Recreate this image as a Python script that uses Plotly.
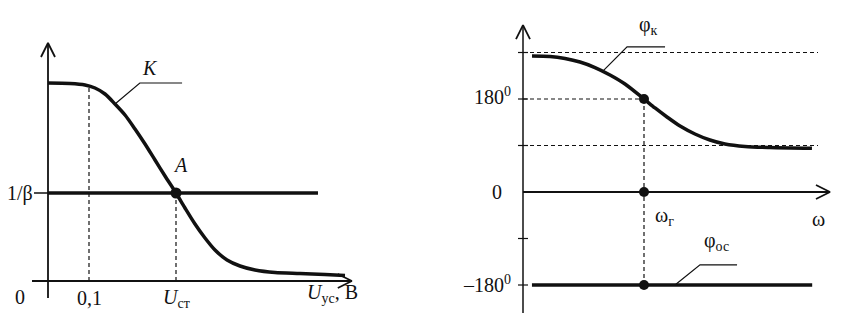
import plotly.graph_objects as go

# ---------------- Left panel data (gain characteristic) ----------------
u_k = [0.0, 0.0537, 0.0902, 0.1146, 0.139, 0.1634, 0.1878, 0.2122, 0.2366,
       0.261, 0.2854, 0.3122, 0.3341, 0.3585, 0.3829, 0.4073, 0.4366, 0.4683,
       0.5049, 0.5537, 0.6146, 0.6756, 0.7244]
k_vals = [1.98, 1.975, 1.96, 1.93, 1.87, 1.77, 1.66, 1.52, 1.37,
          1.21, 1.05, 0.88, 0.73, 0.57, 0.43, 0.31, 0.21, 0.15,
          0.11, 0.085, 0.075, 0.065, 0.055]
inv_beta = 0.88
u_beta_end = 0.6585
u_01 = 0.1
k_at_01 = 1.945
u_st = 0.3122
left_x_axis = [-0.039, 0.741]
left_y_axis = [-0.17, 2.38]

# ---------------- Right panel data (phase characteristic) ----------------
w_phi = [0.0744, 0.2231, 0.3471, 0.4711, 0.595, 0.719, 0.843, 1.0, 1.091,
         1.190, 1.298, 1.421, 1.545, 1.669, 1.835, 2.041, 2.388]
phi_k = [263.2, 262.3, 258.4, 251.6, 240.9, 226.5, 209.0, 180, 162.6,
         145.2, 127.7, 112.3, 100.6, 92.9, 88.1, 86.1, 84.6]
w_oc = [0.074, 2.39]
phi_oc = [-180, -180]
w_g = 1.0
phi_ticks = [270, 180, 90, -90, -180]
dash_levels = [270, 90]
w_dash_end = 2.438
right_x_axis = [0.0, 2.537]
right_y_axis = [-234, 323]

# pixel scales of the two panels (px per data unit)
LX, LY = 410.0, 100.0
RX, RY = 121.0, 93.0 / 180.0

BLACK = "#111111"
FONT = "Liberation Serif"
FS = 20

fig = go.Figure()


def line(x, y, axis, width=2.0, dash=None):
    xa, ya = ("x", "y") if axis == 1 else ("x2", "y2")
    smooth = len(x) > 3
    fig.add_trace(go.Scatter(x=x, y=y, mode="lines", xaxis=xa, yaxis=ya,
                             line=dict(color=BLACK, width=width, dash=dash,
                                       shape="spline" if smooth else "linear",
                                       smoothing=0.8 if smooth else None),
                             hoverinfo="skip", showlegend=False))


def arrow(x, y, direction, axis, sx, sy):
    # open V arrowhead, size given in pixels converted through the panel scale
    a, b = 14.0, 7.0
    if direction == "up":
        xs = [x - b / sx, x, x + b / sx]
        ys = [y - a / sy, y, y - a / sy]
    else:
        xs = [x - a / sx, x, x - a / sx]
        ys = [y + b / sy, y, y - b / sy]
    line(xs, ys, axis, width=1.8)


# ---------- Left panel ----------
line(left_x_axis, [0, 0], 1, width=2.2)
line([0, 0], left_y_axis, 1, width=1.8)
arrow(left_x_axis[1], 0, "right", 1, LX, LY)
arrow(0, left_y_axis[1], "up", 1, LX, LY)
line([-14 / LX, 0], [inv_beta, inv_beta], 1, width=1.5)
line([u_01, u_01], [0, k_at_01], 1, width=1.2, dash="4px,3px")
line([u_st, u_st], [0, inv_beta], 1, width=1.2, dash="4px,3px")
line([0, u_beta_end], [inv_beta, inv_beta], 1, width=3.5)
line(u_k, k_vals, 1, width=3.5)
# leader line to label K
line([u_k[5], 0.224, 0.327], [k_vals[5], k_vals[0], k_vals[0]], 1, width=1.2)
fig.add_trace(go.Scatter(x=[u_st], y=[inv_beta], mode="markers", xaxis="x", yaxis="y",
                         marker=dict(color=BLACK, size=11), hoverinfo="skip",
                         showlegend=False))

# ---------- Right panel ----------
line(right_x_axis, [0, 0], 2, width=1.8)
line([0, 0], right_y_axis, 2, width=1.5)
arrow(right_x_axis[1], 0, "right", 2, RX, RY)
arrow(0, right_y_axis[1], "up", 2, RX, RY)
for t in phi_ticks:
    line([-5 / RX, 5 / RX], [t, t], 2, width=1.2)
for lv in dash_levels:
    line([0, w_dash_end], [lv, lv], 2, width=1.0, dash="4px,3px")
line([0, w_g], [180, 180], 2, width=1.2, dash="4px,3px")
line([w_g, w_g], [180, -180], 2, width=1.2, dash="4px,3px")
line(w_phi, phi_k, 2, width=3.5)
line(w_oc, phi_oc, 2, width=3.5)
# leader lines
line([0.66, 0.86, 1.174], [234, 281, 281], 2, width=1.2)
line([1.256, 1.463, 1.769], [-180, -141, -141], 2, width=1.2)
fig.add_trace(go.Scatter(x=[w_g, w_g, w_g], y=[180, 0, -180], mode="markers",
                         xaxis="x2", yaxis="y2",
                         marker=dict(color=BLACK, size=10), hoverinfo="skip",
                         showlegend=False))

# ---------- Labels ----------
left_labels = [
    ("<i>K</i>", 0.249, 2.13),
    ("<i>A</i>", 0.322, 1.16),
    ("1/β", -0.068, inv_beta),
    ("0", -0.068, -0.16),
    ("0,1", u_01, -0.17),
    ("<i>U</i><sub>ст</sub>", u_st, -0.17),
    ("<i>U</i><sub>ус</sub>, В", 0.695, -0.12),
]
right_labels = [
    ("180<sup>0</sup>", -0.256, 186),
    ("0", -0.215, 0),
    ("–180<sup>0</sup>", -0.30, -178),
    ("φ<sub>к</sub>", 1.04, 323),
    ("ω<sub>г</sub>", 1.17, -48),
    ("ω", 2.446, -52),
    ("φ<sub>ос</sub>", 1.60, -95),
]
for txt, x, y in left_labels:
    fig.add_annotation(text=txt, x=x, y=y, xref="x", yref="y", showarrow=False,
                       font=dict(family=FONT, size=FS, color=BLACK))
for txt, x, y in right_labels:
    fig.add_annotation(text=txt, x=x, y=y, xref="x2", yref="y2", showarrow=False,
                       font=dict(family=FONT, size=FS, color=BLACK))

# ranges chosen so that the panels fill the 848x336 canvas
fig.update_layout(
    width=848, height=336, margin=dict(l=0, r=0, t=0, b=0),
    paper_bgcolor="white", plot_bgcolor="white", hovermode=False,
    xaxis=dict(domain=[0, 0.5], range=[-48 / LX, 376 / LX], visible=False),
    yaxis=dict(domain=[0, 1], range=[-55 / LY, 281 / LY], visible=False),
    xaxis2=dict(domain=[0.5, 1], range=[-99 / RX, 325 / RX], visible=False),
    yaxis2=dict(domain=[0, 1], range=[-144 / RY, 192 / RY], visible=False, anchor="x2"),
)

fig.write_html("out.html")
